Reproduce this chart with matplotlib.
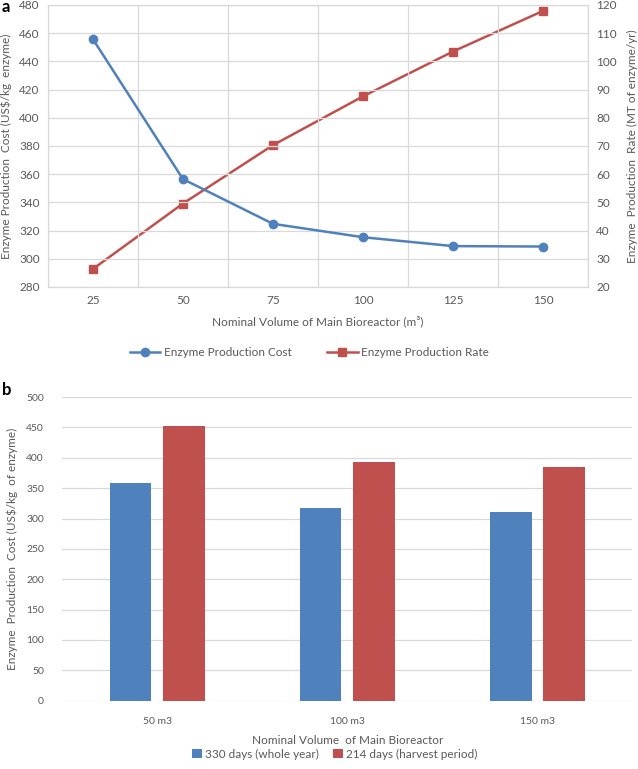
import numpy as np
import matplotlib
matplotlib.use("Agg")
import matplotlib.pyplot as plt

plt.rcParams['font.family'] = ['Lato', 'DejaVu Sans']

# panel a
volumes = [25, 50, 75, 100, 125, 150]
cost = [455.7, 356.5, 324.8, 315.3, 309.0, 308.7]
rate = [26.4, 49.6, 70.3, 87.6, 103.5, 117.9]

# panel b
vol_labels = ['50 m3', '100 m3', '150 m3']
cost_330 = [358.5, 316.5, 311.0]
cost_214 = [452.5, 393.5, 384.0]

blue = '#4F81BD'
red = '#C0504D'
txt = '#595959'
grid = '#D9D9D9'

fig = plt.figure(figsize=(6.38, 7.69), dpi=100)

# ---- panel a ----
ax = fig.add_axes([0.0752, 0.6268, 0.8464, 0.3667])
x = np.arange(len(volumes))
ax.plot(x, cost, color=blue, lw=1.8, marker='o', ms=6, label='Enzyme Production Cost')
ax.set_xlim(-0.5, len(volumes) - 0.5)
ax.set_ylim(280, 480)
ax.set_yticks(np.arange(280, 481, 20))
ax.set_xticks(x)
ax.set_xticklabels([str(v) for v in volumes])
ax.set_xticks(np.arange(-0.5, len(volumes), 1), minor=True)
ax.grid(True, which='minor', axis='x', color=grid, lw=0.9)
ax.grid(True, which='major', axis='y', color=grid, lw=0.9)
ax.set_axisbelow(True)
ax.tick_params(which='both', length=0, labelsize=8.5, colors=txt, pad=6)
for s in ax.spines.values():
    s.set_color(grid)
ax.set_xlabel('Nominal Volume of Main Bioreactor (m³)', fontsize=8.5, color=txt, labelpad=7)
ax.set_ylabel('Enzyme Production  Cost (US$/kg  enzyme)', fontsize=8.5, color=txt, labelpad=5)

ax2 = ax.twinx()
ax2.plot(x, rate, color=red, lw=1.8, marker='s', ms=6, label='Enzyme Production Rate')
ax2.set_ylim(20, 120)
ax2.set_yticks(np.arange(20, 121, 10))
ax2.tick_params(length=0, labelsize=8.5, colors=txt, pad=6)
for s in ax2.spines.values():
    s.set_color(grid)
ax2.set_ylabel('Enzyme  Production  Rate (MT of enzyme/yr)', fontsize=8.5, color=txt, labelpad=7)
ax.set_zorder(ax2.get_zorder() + 1)
ax.patch.set_visible(False)

h1, l1 = ax.get_legend_handles_labels()
h2, l2 = ax2.get_legend_handles_labels()
fig.legend(h1 + h2, l1 + l2, loc='center', bbox_to_anchor=(0.485, 0.542), ncol=2,
           frameon=False, fontsize=8.5, labelcolor=txt, handlelength=2.6,
           columnspacing=3, handletextpad=0.3)
fig.text(0.003, 0.991, 'a', fontsize=12, fontweight='bold', va='center')

# ---- panel b ----
bx = fig.add_axes([0.0972, 0.0888, 0.894, 0.3949])
xb = np.arange(len(vol_labels))
w = 0.22
bx.bar(xb - 0.14, cost_330, w, color=blue, label='330 days (whole year)', zorder=3)
bx.bar(xb + 0.14, cost_214, w, color=red, label='214 days (harvest period)', zorder=3)
bx.set_xlim(-0.5, len(vol_labels) - 0.5)
bx.set_ylim(0, 500)
bx.set_yticks(np.arange(0, 501, 50))
bx.set_xticks(xb)
bx.set_xticklabels(vol_labels)
bx.grid(True, axis='y', color=grid, lw=0.9)
bx.set_axisbelow(True)
for s in bx.spines.values():
    s.set_visible(False)
bx.tick_params(length=0, labelsize=7.5, colors=txt, pad=13)
bx.tick_params(axis='x', pad=12)
bx.set_xlabel('Nominal Volume  of Main Bioreactor', fontsize=8.5, color=txt, labelpad=6)
bx.set_ylabel('Enzyme  Production  Cost (US$/kg  of enzyme)', fontsize=8.5, color=txt, labelpad=6)
fig.legend(*bx.get_legend_handles_labels(), loc='center', bbox_to_anchor=(0.525, 0.019),
           ncol=2, frameon=False, fontsize=8.5, labelcolor=txt, handlelength=0.8,
           handleheight=0.8, columnspacing=1.2, handletextpad=0.3)
fig.text(0.003, 0.493, 'b', fontsize=12, fontweight='bold', va='center')

fig.savefig('out.png', dpi=100)
